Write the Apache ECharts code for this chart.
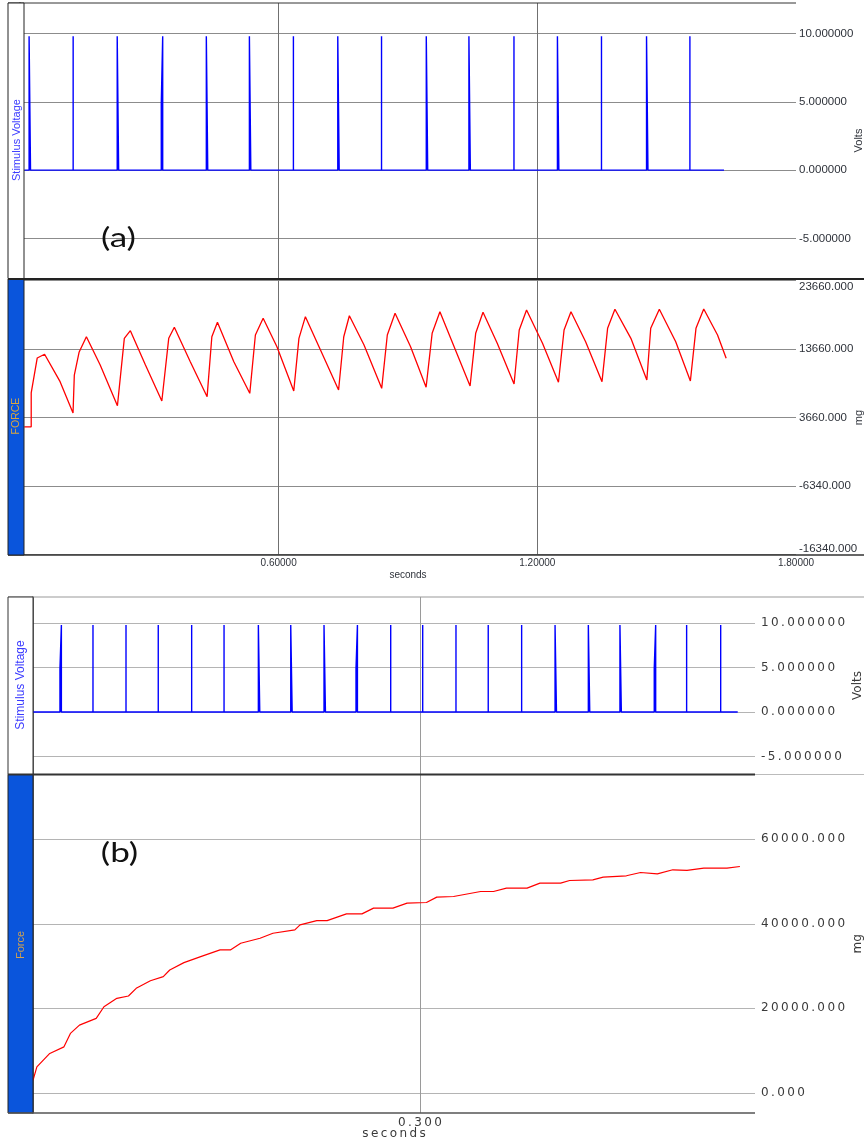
<!DOCTYPE html>
<html><head><meta charset="utf-8">
<script src="https://cdn.jsdelivr.net/npm/echarts@6/dist/echarts.min.js"></script>
<style>html,body{margin:0;padding:0;background:#fff}#c{width:864px;height:1146px}</style>
</head><body><div id="c"></div>
<script>
// ---------- DATA ----------
// (a) stimulus pulses (seconds) and kind: T = wide pulse, t = narrow pulse, h = step 5V then 10V
const voltA_times = [0.0211,0.1233,0.2255,0.3277,0.4322,0.5321,0.6342,0.7371,0.8386,0.9424,1.0413,1.1458,1.2466,1.3488,1.4533,1.5539];
const voltA_kinds = ['T','t','T','h','T','T','t','T','t','T','T','t','T','t','T','t'];
const voltA_range = [0.010, 1.633];
const voltA_peak = 9.8, voltA_half = 4.9, voltA_dt = 0.0033;

// (a) force trace [seconds, mg]
const forceA = [
 [0.010,2300],[0.026,2300],[0.026,7240],[0.040,12350],[0.057,12890],[0.093,8890],
 [0.123,4320],[0.126,9860],[0.137,13180],[0.154,15450],[0.186,11320],
 [0.226,5380],[0.242,15220],[0.256,16330],[0.291,11320],
 [0.329,6070],[0.345,15220],[0.358,16830],[0.395,11810],
 [0.434,6700],[0.445,15450],[0.458,17560],[0.496,11810],
 [0.533,7190],[0.546,15700],[0.564,18140],[0.596,14000],
 [0.635,7530],[0.647,15220],[0.662,18380],[0.697,13510],
 [0.739,7670],[0.751,15450],[0.764,18520],[0.798,14240],
 [0.839,7920],[0.852,15700],[0.870,18870],[0.906,14000],
 [0.942,8070],[0.956,15950],[0.974,19110],[1.007,14000],
 [1.044,8260],[1.057,15950],[1.074,19020],[1.107,14490],
 [1.146,8550],[1.158,16430],[1.175,19350],[1.212,14490],
 [1.249,8800],[1.262,16430],[1.278,19110],[1.312,14720],
 [1.350,8890],[1.363,16680],[1.380,19460],[1.417,15220],
 [1.454,9130],[1.463,16680],[1.483,19460],[1.521,14720],
 [1.555,8990],[1.568,16680],[1.586,19500],[1.618,15700],[1.638,12300]
];

// (b) stimulus pulses
const voltB_times = [0.0209,0.0465,0.0721,0.0971,0.1230,0.1481,0.1747,0.1998,0.2256,0.2504,0.2773,0.3021,0.3279,0.3529,0.3788,0.4047,0.4305,0.4550,0.4816,0.5067,0.5331];
const voltB_kinds = ['h','t','t','t','t','t','T','T','T','h','t','t','t','t','t','T','T','T','h','t','t'];
const voltB_range = [0.000, 0.5463];
const voltB_peak = 9.75, voltB_half = 4.9, voltB_dt = 0.0011;

// (b) force trace [seconds, mg]
const forceB = [
 [0.000,3010],[0.003,6160],[0.013,9340],[0.024,10900],[0.029,14080],[0.036,16040],
 [0.049,17630],[0.055,20380],[0.065,22370],[0.074,22920],[0.080,24740],[0.091,26540],
 [0.101,27490],[0.106,29080],[0.117,30810],[0.130,32230],[0.145,33820],[0.153,33820],
 [0.161,35400],[0.176,36590],[0.186,37770],[0.203,38550],[0.207,39740],[0.220,40760],
 [0.228,40760],[0.243,42350],[0.255,42350],[0.264,43700],[0.279,43700],[0.290,44880],
 [0.305,45030],[0.313,46300],[0.326,46450],[0.347,47630],[0.357,47630],[0.367,48440],
 [0.383,48440],[0.393,49620],[0.409,49620],[0.416,50240],[0.434,50400],[0.442,51040],
 [0.460,51350],[0.471,52130],[0.484,51820],[0.496,52770],[0.507,52610],[0.520,53170],
 [0.538,53170],[0.548,53550]
];

// tick labels
const xTicksA = [0.6, 1.2, 1.8];
const voltTicks = [-5, 0, 5, 10];
const forceTicksA = [-16340, -6340, 3660, 13660, 23660];
const forceTicksB = [0, 20000, 40000, 60000];
const xTicksB = [0.3];

// ---------- BUILD ----------
function spikeTrain(range, times, kinds, peak, half, dt) {
  const pts = [[range[0], 0]];
  times.forEach((t, i) => {
    const k = kinds[i];
    if (k === 't') pts.push([t, 0], [t, peak], [t, 0]);
    else if (k === 'T') pts.push([t, 0], [t, peak], [t + dt, peak], [t + dt, 0]);
    else pts.push([t, 0], [t, half], [t + dt, peak], [t + dt, 0]);
  });
  pts.push([range[1], 0]);
  return pts;
}
const sp = s => s.split('').join('\u2009');

const fA = '"Liberation Sans", Arial, sans-serif';
const fB = '"DejaVu Sans", Verdana, sans-serif';
const labA = {color:'#2e323a', fontSize:11.5, fontFamily:fA};
const labB = {color:'#3a3a3a', fontSize:12, fontFamily:fB};

const chart = echarts.init(document.getElementById('c'), null, {renderer:'canvas'});
const gridBase = {containLabel:false, outerBoundsMode:'none'};
const option = {
  backgroundColor:'#fff',
  animation:false,
  grid:[
    Object.assign({left:20, top:3, width:776, height:275}, gridBase),
    Object.assign({left:20, top:280.5, width:776, height:274}, gridBase),
    Object.assign({left:33, top:597, width:722, height:177}, gridBase),
    Object.assign({left:33, top:774.5, width:722, height:338.5}, gridBase)
  ],
  xAxis:[
    {gridIndex:0, type:'value', min:0, max:1.8, axisLine:{show:false},
     axisTick:{show:false, customValues:[0.6,1.2]}, axisLabel:{show:false},
     splitLine:{show:true, lineStyle:{color:'#707070', width:1}}},
    {gridIndex:1, type:'value', min:0, max:1.8, axisLine:{show:false},
     axisTick:{show:false, customValues:[0.6,1.2]},
     axisLabel:Object.assign({customValues:xTicksA, formatter:v=>v.toFixed(5), margin:4}, labA, {fontSize:10}),
     splitLine:{show:true, lineStyle:{color:'#707070', width:1}},
     name:'seconds', nameLocation:'middle', nameGap:16, nameMoveOverlap:false,
     nameTextStyle:Object.assign({}, labA, {fontSize:10})},
    {gridIndex:2, type:'value', min:0, max:0.5597, axisLine:{show:false},
     axisTick:{show:false, customValues:xTicksB}, axisLabel:{show:false},
     splitLine:{show:true, lineStyle:{color:'#9a9a9a', width:1}}},
    {gridIndex:3, type:'value', min:0, max:0.5597, axisLine:{show:false},
     axisTick:{show:false, customValues:xTicksB},
     axisLabel:Object.assign({customValues:xTicksB, formatter:v=>sp(v.toFixed(3)), margin:4}, labB),
     splitLine:{show:true, lineStyle:{color:'#9a9a9a', width:1}},
     name:sp('seconds'), nameLocation:'middle', nameGap:15, nameMoveOverlap:false,
     nameTextStyle:Object.assign({}, labB)}
  ],
  yAxis:[
    {gridIndex:0, type:'value', position:'right', min:-7.9, max:12.24,
     axisLine:{show:true, lineStyle:{color:'#333', width:1.5}},
     axisTick:{show:false, customValues:voltTicks},
     axisLabel:Object.assign({customValues:voltTicks, formatter:v=>v.toFixed(6), margin:3}, labA),
     splitLine:{show:true, lineStyle:{color:'#8c8c8c', width:1}},
     name:'Volts', nameLocation:'middle', nameRotate:90, nameGap:57, nameMoveOverlap:false,
     nameTextStyle:Object.assign({}, labA, {fontSize:11})},
    {gridIndex:1, type:'value', position:'right', min:-16340, max:23660,
     axisLine:{show:true, lineStyle:{color:'#333', width:1.5}},
     axisTick:{show:false, customValues:forceTicksA},
     axisLabel:Object.assign({customValues:forceTicksA, formatter:v=>v.toFixed(3), margin:3,
       verticalAlignMaxLabel:'top', verticalAlignMinLabel:'bottom'}, labA),
     splitLine:{show:true, lineStyle:{color:'#8c8c8c', width:1}},
     name:'mg', nameLocation:'middle', nameRotate:90, nameGap:57, nameMoveOverlap:false,
     nameTextStyle:Object.assign({}, labA, {fontSize:11})},
    {gridIndex:2, type:'value', position:'right', min:-6.95, max:12.9,
     axisLine:{show:true, lineStyle:{color:'#333', width:1.5}},
     axisTick:{show:false, customValues:voltTicks},
     axisLabel:Object.assign({customValues:voltTicks, formatter:v=>sp(v.toFixed(6)), margin:6}, labB),
     splitLine:{show:true, lineStyle:{color:'#b4b4b4', width:1}},
     name:'Volts', nameLocation:'middle', nameRotate:90, nameGap:97, nameMoveOverlap:false,
     nameTextStyle:Object.assign({}, labB)},
    {gridIndex:3, type:'value', position:'right', min:-4740, max:75300,
     axisLine:{show:true, lineStyle:{color:'#333', width:1.5}},
     axisTick:{show:false, customValues:forceTicksB},
     axisLabel:Object.assign({customValues:forceTicksB, formatter:v=>sp(v.toFixed(3)), margin:6}, labB),
     splitLine:{show:true, lineStyle:{color:'#b4b4b4', width:1}},
     name:'mg', nameLocation:'middle', nameRotate:90, nameGap:97, nameMoveOverlap:false,
     nameTextStyle:Object.assign({}, labB)}
  ],
  series:[
    {type:'line', xAxisIndex:0, yAxisIndex:0, showSymbol:false, symbol:'none',
     data:spikeTrain(voltA_range, voltA_times, voltA_kinds, voltA_peak, voltA_half, voltA_dt),
     lineStyle:{color:'#0000ff', width:1.4}},
    {type:'line', xAxisIndex:1, yAxisIndex:1, showSymbol:false, symbol:'none', data:forceA,
     lineStyle:{color:'#ff0000', width:1.3}},
    {type:'line', xAxisIndex:2, yAxisIndex:2, showSymbol:false, symbol:'none',
     data:spikeTrain(voltB_range, voltB_times, voltB_kinds, voltB_peak, voltB_half, voltB_dt),
     lineStyle:{color:'#0000ff', width:1.4}},
    {type:'line', xAxisIndex:3, yAxisIndex:3, showSymbol:false, symbol:'none', data:forceB,
     lineStyle:{color:'#ff0000', width:1.2}}
  ],
  graphic:[
    // frame (a)
    {type:'line', z:100, shape:{x1:8, y1:3, x2:796, y2:3}, style:{stroke:'#333', lineWidth:1}},
    {type:'line', z:100, shape:{x1:8, y1:555, x2:864, y2:555}, style:{stroke:'#333', lineWidth:1.5}},
    {type:'rect', z:100, shape:{x:8, y:3, width:16, height:275.5}, style:{fill:'#fff', stroke:'#222', lineWidth:1}},
    {type:'rect', z:100, shape:{x:8, y:279, width:16, height:276}, style:{fill:'#0a55dc', stroke:'#222', lineWidth:1}},
    {type:'line', z:101, shape:{x1:8, y1:279, x2:864, y2:279}, style:{stroke:'#222', lineWidth:2}},
    // frame (b)
    {type:'line', z:100, shape:{x1:8, y1:597, x2:864, y2:597}, style:{stroke:'#999', lineWidth:1}},
    {type:'rect', z:100, shape:{x:8, y:597, width:25, height:177.5}, style:{fill:'#fff', stroke:'#333', lineWidth:1}},
    {type:'rect', z:100, shape:{x:8, y:774.5, width:25, height:338.5}, style:{fill:'#0a55dc', stroke:'#222', lineWidth:1}},
    {type:'line', z:101, shape:{x1:8, y1:774.5, x2:755, y2:774.5}, style:{stroke:'#333', lineWidth:2}},
    {type:'line', z:101, shape:{x1:755, y1:774.5, x2:864, y2:774.5}, style:{stroke:'#bbb', lineWidth:1}},
    {type:'line', z:101, shape:{x1:8, y1:1113, x2:755, y2:1113}, style:{stroke:'#555', lineWidth:1.5}},
    // texts
    {type:'text', z:102, x:16.5, y:140, rotation:Math.PI/2,
     style:{text:'Stimulus Voltage', font:'11px "Liberation Sans"', fill:'#3a3aff', align:'center', verticalAlign:'middle', textAlign:'center', textVerticalAlign:'middle'}},
    {type:'text', z:102, x:16.5, y:416, rotation:Math.PI/2,
     style:{text:'FORCE', font:'10.5px "Liberation Sans"', fill:'#d8a640', align:'center', verticalAlign:'middle', textAlign:'center', textVerticalAlign:'middle'}},
    {type:'text', z:102, x:20.5, y:685, rotation:Math.PI/2,
     style:{text:'Stimulus Voltage', font:'12px "Liberation Sans"', fill:'#3a3aff', align:'center', verticalAlign:'middle', textAlign:'center', textVerticalAlign:'middle'}},
    {type:'text', z:102, x:20.5, y:945, rotation:Math.PI/2,
     style:{text:'Force', font:'11px "Liberation Sans"', fill:'#d0a050', align:'center', verticalAlign:'middle', textAlign:'center', textVerticalAlign:'middle'}},
    {type:'text', z:102, x:118.5, y:238, scaleX:1.3,
     style:{text:'(a)', font:'27px Lato', fill:'#111', align:'center', verticalAlign:'middle', textAlign:'center', textVerticalAlign:'middle'}},
    {type:'text', z:102, x:119.5, y:853, scaleX:1.3,
     style:{text:'(b)', font:'27px Lato', fill:'#111', align:'center', verticalAlign:'middle', textAlign:'center', textVerticalAlign:'middle'}}
  ]
};
chart.setOption(option);
</script></body></html>
